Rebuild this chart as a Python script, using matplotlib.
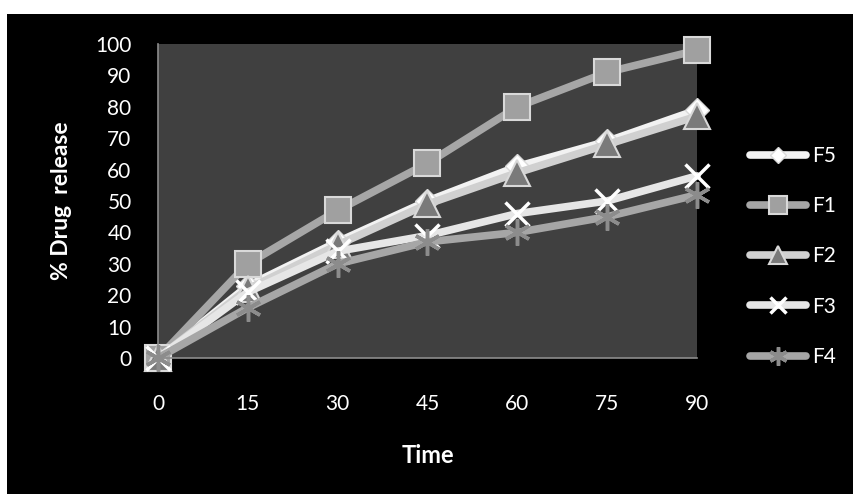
import matplotlib.pyplot as plt
from matplotlib.patches import Rectangle

# Datos
tiempos = [0, 15, 30, 45, 60, 75, 90]
f5 = [0, 23, 37, 50, 61, 69, 79]
f1 = [0, 30, 47, 62, 80, 91, 98]
f2 = [0, 22, 36, 49, 59, 68, 77]
f3 = [0, 21, 34, 39, 46, 50, 58]
f4 = [0, 16, 30, 37, 40, 45, 52]

plt.rcParams['font.family'] = ['Lato', 'DejaVu Sans']

fig = plt.figure(figsize=(8.54, 4.94), dpi=100, facecolor='white')
fig.patches.append(Rectangle((7 / 854, 0), 1, (494 - 14) / 494, transform=fig.transFigure,
                             facecolor='black', edgecolor='none', zorder=-10))
ax = fig.add_axes([158 / 854, 1 - 358 / 494, (697 - 158) / 854, (358 - 44) / 494])
ax.set_facecolor('#404040')

series = [
    ("F5", f5, '#f2f2f2', 'D', 12, '#ffffff', 1.0),
    ("F1", f1, '#a6a6a6', 's', 19, '#a0a0a0', 1.5),
    ("F2", f2, '#d0d0d0', '^', 19, '#7a7a7a', 1.5),
    ("F3", f3, '#e6e6e6', 'x', 17, '#ffffff', 2.5),
    ("F4", f4, '#a6a6a6', (6, 2, 0), 19, '#8c8c8c', 2.5),
]
for nombre, valores, color, marca, tam, mcolor, mew in series:
    ax.plot(tiempos, valores, color=color, lw=5.5, marker=marca, markersize=tam,
            markerfacecolor=mcolor, markeredgecolor=mcolor if marca in ('x', (6, 2, 0)) else '#d9d9d9',
            markeredgewidth=mew, label=nombre, clip_on=False, solid_capstyle='round')

ax.set_xlim(0, 90)
ax.set_ylim(0, 100)
ax.set_xticks(tiempos)
ax.set_yticks(range(0, 101, 10))
ax.tick_params(length=0, colors='white', labelsize=15)
ax.tick_params(axis='y', pad=19)
ax.tick_params(axis='x', pad=26)
for s in ['top', 'right']:
    ax.spines[s].set_visible(False)
for s in ['left', 'bottom']:
    ax.spines[s].set_color('#8c8c8c')
    ax.spines[s].set_linewidth(1.2)

fig.text(62 / 854, 1 - 201 / 494, "% Drug  release", rotation=90, color='white',
         fontsize=16.5, fontweight='bold', ha='center', va='center')
fig.text(428 / 854, 1 - 455 / 494, "Time", color='white',
         fontsize=17, fontweight='bold', ha='center', va='center')

leg = fig.legend(loc='upper left', bbox_to_anchor=(750 / 854, 1 - 146 / 494), frameon=False,
                 fontsize=15, handlelength=2.7, labelspacing=1.45, handletextpad=0.3,
                 borderpad=0, borderaxespad=0, markerscale=0.7)
for t in leg.get_texts():
    t.set_color('white')

fig.savefig("out.png", dpi=100, facecolor='white')
